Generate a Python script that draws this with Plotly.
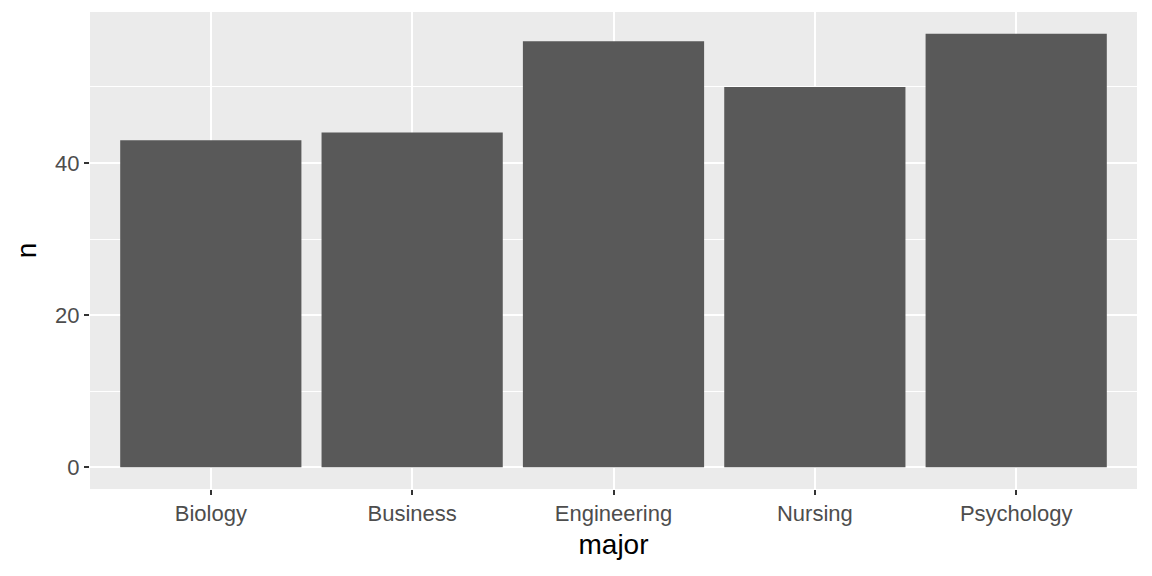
import plotly.graph_objects as go

majors = ["Biology", "Business", "Engineering", "Nursing", "Psychology"]
counts = [43, 44, 56, 50, 57]

fig = go.Figure()
fig.add_trace(go.Bar(x=majors, y=counts, marker=dict(color="#595959", line=dict(width=0)),
                     width=0.9))

ymax = max(counts)
pad = ymax * 0.05

# page body has an 8px margin, so the plot margins are shifted to match
fig.update_layout(
    width=1152, height=576,
    margin=dict(l=82, r=23, t=4, b=95),
    paper_bgcolor="white",
    plot_bgcolor="#EBEBEB",
    font=dict(family="Liberation Sans, Arial, sans-serif"),
    showlegend=False,
    bargap=0.1,
)
fig.update_xaxes(
    range=[-0.6, len(majors) - 0.4],
    showgrid=True, gridcolor="white", gridwidth=2,
    ticks="outside", ticklen=5, tickcolor="#333333", tickwidth=1.5,
    tickfont=dict(size=22, color="#4D4D4D"),
    title=dict(text="major", font=dict(size=28, color="black"), standoff=8),
    zeroline=False, showline=False,
)
fig.update_yaxes(
    range=[-pad, ymax + pad],
    tickvals=[0, 20, 40],
    showgrid=True, gridcolor="white", gridwidth=2,
    minor=dict(tickvals=[10, 30, 50], showgrid=True, gridcolor="white", gridwidth=1, ticks=""),
    ticks="outside", ticklen=5, tickcolor="#333333", tickwidth=1.5,
    tickfont=dict(size=22, color="#4D4D4D"),
    title=dict(text="n", font=dict(size=28, color="black"), standoff=10),
    zeroline=False, showline=False,
)

fig.write_html("out.html")
